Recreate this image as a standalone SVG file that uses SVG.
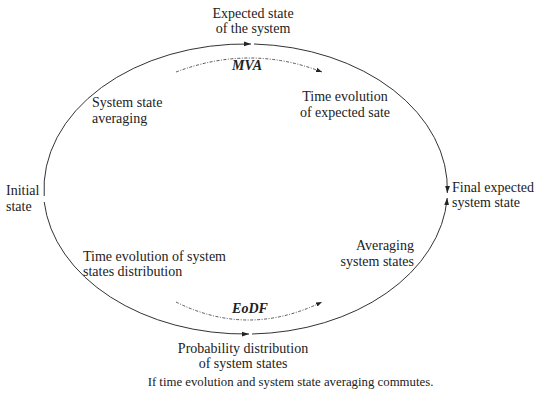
<svg xmlns="http://www.w3.org/2000/svg" width="540" height="402" viewBox="0 0 540 402">
<style>
text{font-family:"Liberation Serif","Times New Roman",serif;font-size:14px;fill:#222}
.b{font-weight:bold;font-style:italic}
.c{text-anchor:middle}
.cap{font-size:12.8px}
.arc{fill:none;stroke:#333;stroke-width:1}
.dot{fill:none;stroke:#444;stroke-width:0.9;stroke-dasharray:3 1.5 1 1.5}
</style>
<defs>
<marker id="ah" markerWidth="8" markerHeight="6" refX="7" refY="3" orient="auto" markerUnits="userSpaceOnUse">
<path d="M0,0.6 L7,3 L0,5.4 Z" fill="#222"/>
</marker>
<marker id="ah2" markerWidth="7" markerHeight="6" refX="6" refY="3" orient="auto" markerUnits="userSpaceOnUse">
<path d="M0,0.8 L6,3 L0,5.2 Z" fill="#222"/>
</marker>
</defs>
<g id="connectors">
<path class="arc" d="M44.2,196 A201.5,145 0 0 1 251,44" marker-end="url(#ah)"/>
<path class="arc" d="M254,44 A201.5,145 0 0 1 447.3,193" marker-end="url(#ah)"/>
<path class="arc" d="M44.2,202 A201.5,145 0 0 0 249,334" marker-end="url(#ah)"/>
<path class="arc" d="M252,334 A201.5,145 0 0 0 447.2,198" marker-end="url(#ah)"/>
<path class="dot" d="M176,72 Q250,44 322,72" marker-end="url(#ah2)"/>
<path class="dot" d="M176,302 Q248,338 322,302" marker-end="url(#ah2)"/>
</g>
<g id="expected">
<text class="c" x="253" y="18">Expected state</text>
<text class="c" x="253" y="33">of the system</text>
</g>
<g id="mva"><text class="c b" x="247" y="70">MVA</text></g>
<g id="timeevo">
<text class="c" x="345" y="101">Time evolution</text>
<text class="c" x="345" y="117">of expected sate</text>
</g>
<g id="averaging1">
<text x="92" y="107">System state</text>
<text x="92" y="123">averaging</text>
</g>
<g id="initial">
<text x="6" y="195">Initial</text>
<text x="6" y="211">state</text>
</g>
<g id="final">
<text x="452" y="192">Final expected</text>
<text x="452" y="207">system state</text>
</g>
<g id="timeevodist">
<text x="83" y="261">Time evolution of system</text>
<text x="83" y="276">states distribution</text>
</g>
<g id="averaging2">
<text x="414" y="250" text-anchor="end">Averaging</text>
<text x="414" y="266" text-anchor="end">system states</text>
</g>
<g id="eodf"><text class="c b" x="250" y="313">EoDF</text></g>
<g id="prob">
<text class="c" x="243" y="353">Probability distribution</text>
<text class="c" x="243" y="368">of system states</text>
</g>
<g id="caption"><text class="c cap" x="290.5" y="386">If time evolution and system state averaging commutes.</text></g>
</svg>
